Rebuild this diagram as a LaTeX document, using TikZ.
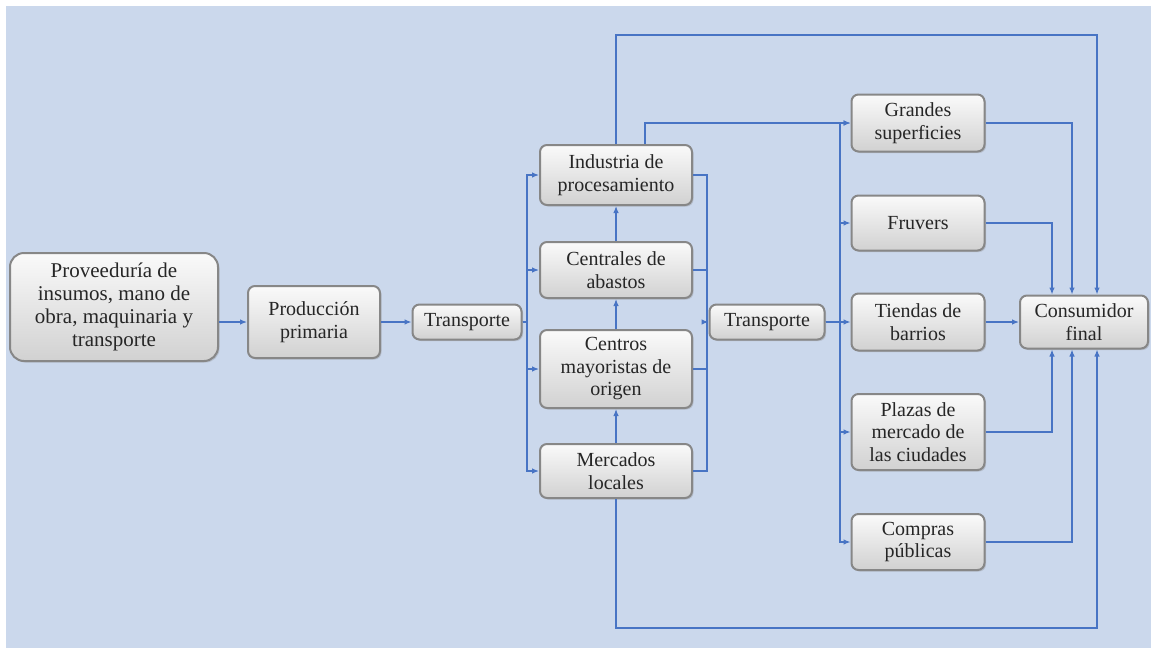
\documentclass[tikz,border=0pt]{standalone}
\usepackage{fontspec}
\setmainfont{Liberation Serif}
\usetikzlibrary{arrows.meta,calc,shadows}

\definecolor{slidebg}{RGB}{203,216,236}
\definecolor{flow}{RGB}{72,116,196}
\definecolor{rim}{RGB}{135,135,135}

\begin{document}
\begin{tikzpicture}[x=1pt, y=-1pt,
  font=\rmfamily\fontsize{20}{22.5}\selectfont,
  stage/.style={draw=rim, line width=2pt, rounded corners=7pt,
                top color=gray!4, bottom color=gray!36, align=center,
                inner sep=2pt, text=black!85,
                font=\rmfamily\fontsize{20}{22.5}\selectfont,
                drop shadow={shadow xshift=1.5pt, shadow yshift=-1.5pt, opacity=0.3}},
  ar/.style={draw=flow, line width=1.2pt, -{Latex[length=7pt,width=5.5pt]}},
  ln/.style={draw=flow, line width=1.2pt}]

\useasboundingbox (0,0) rectangle (1151,648);
\fill[white] (0,0) rectangle (1151,648);
\fill[slidebg] (6,6) rectangle (1151,648);

\def\mx{616}   % wholesale column centre
\def\rx{918}   % retail column centre

% production side
\node[stage, minimum width=208, minimum height=108, rounded corners=14pt,
      font=\rmfamily\fontsize{21}{23}\selectfont] (prov) at (114,307)
  {Proveeduría de\\insumos, mano de\\obra, maquinaria y\\transporte};
\node[stage, minimum width=132, minimum height=72] (prod) at (314,322)
  {Producción\\primaria};
\node[stage, minimum width=109, minimum height=35] (trA) at (467,322) {Transporte};

% wholesale column, top-down
\node[stage, minimum width=152, minimum height=60] (ind)  at (\mx,175) {Industria de\\procesamiento};
\node[stage, minimum width=152, minimum height=56] (cent) at (\mx,270) {Centrales de\\abastos};
\node[stage, minimum width=152, minimum height=78] (cmay) at (\mx,369) {Centros\\mayoristas de\\origen};
\node[stage, minimum width=152, minimum height=54] (merc) at (\mx,471) {Mercados\\locales};

\node[stage, minimum width=115, minimum height=35] (trB) at (767,322) {Transporte};

% retail column, top-down
\node[stage, minimum width=133, minimum height=57] (gran)  at (\rx,123) {Grandes\\superficies};
\node[stage, minimum width=133, minimum height=55] (fruv)  at (\rx,223) {Fruvers};
\node[stage, minimum width=133, minimum height=57] (tiend) at (\rx,322) {Tiendas de\\barrios};
\node[stage, minimum width=133, minimum height=76] (plaz)  at (\rx,432) {Plazas de\\mercado de\\las ciudades};
\node[stage, minimum width=133, minimum height=56] (comp)  at (\rx,542) {Compras\\públicas};

\node[stage, minimum width=128, minimum height=53] (cons) at (1084,322) {Consumidor\\final};

% bus lines
\coordinate (busA) at (527,322);
\coordinate (busB) at (707,322);
\coordinate (busC) at (840,322);
\coordinate (topy) at (\mx,35);
\coordinate (boty) at (\mx,628);

\draw[ar] (prov.east |- prod.west) -- (prod.west);
\draw[ar] (prod) -- (trA);
\foreach \t in {ind,cent,cmay,merc}
  \draw[ar] (trA.east) -| (busA |- \t.west) -- (\t.west);
\draw[ar] (merc) -- (cmay);
\draw[ar] (cmay) -- (cent);
\draw[ar] (cent) -- (ind);
\foreach \s in {ind,cent,cmay,merc}
  \draw[ln] (\s.east) -| (busB);
\draw[ar] (busB) -- (trB.west);
\foreach \t in {gran,fruv,tiend,plaz,comp}
  \draw[ar] (trB.east) -| (busC |- \t.west) -- (\t.west);
\draw[ar] ([xshift=29pt]ind.north) |- (gran.west);

% into the consumer
\draw[ar] (ind.north) -- (topy) -| ([xshift=13pt]cons.north);
\draw[ar] (gran.east) -| ([xshift=-12pt]cons.north);
\draw[ar] (fruv.east) -| ([xshift=-32pt]cons.north);
\draw[ar] (tiend) -- (cons);
\draw[ar] (plaz.east) -| ([xshift=-32pt]cons.south);
\draw[ar] (comp.east) -| ([xshift=-12pt]cons.south);
\draw[ar] (merc.south) -- (boty) -| ([xshift=13pt]cons.south);
\end{tikzpicture}
\end{document}
